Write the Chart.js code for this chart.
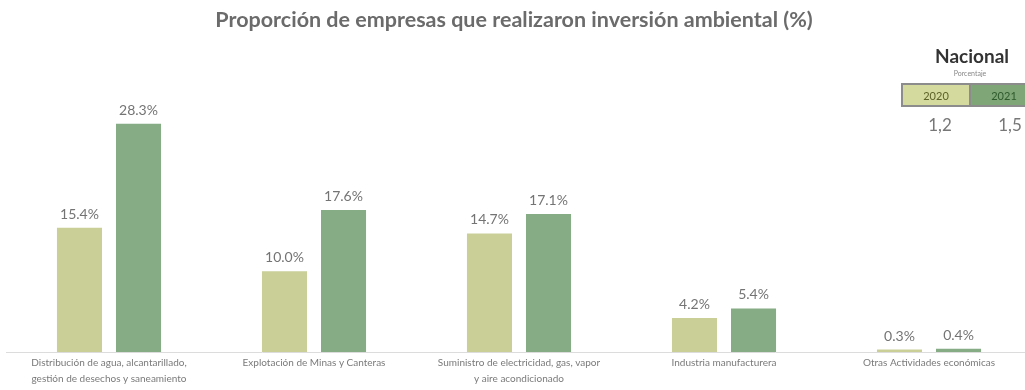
<!DOCTYPE html>
<html lang="es">
<head>
<meta charset="utf-8">
<title>Inversión ambiental</title>
<script src="https://cdn.jsdelivr.net/npm/chart.js@4/dist/chart.umd.min.js"></script>
<style>
    html, body { margin: 0; padding: 0; background: #fff; overflow: hidden; }
    #wrap { width: 1040px; height: 390px; }
</style>
</head>
<body>
<div id="wrap"><canvas id="inversion" width="1040" height="390"></canvas></div>
<script>
const sectores = [
    ["Distribución de agua, alcantarillado,", "gestión de desechos y saneamiento"],
    "Explotación de Minas y Canteras",
    ["Suministro de electricidad, gas, vapor", "y aire acondicionado"],
    "Industria manufacturera",
    "Otras Actividades económicas",
];
const valores2020 = [15.4, 10.0, 14.7, 4.2, 0.3];
const valores2021 = [28.3, 17.6, 17.1, 5.4, 0.4];
const anios = ["2020", "2021"];
const nacional = [1.2, 1.5];

const titulo = "Proporción de empresas que realizaron inversión ambiental (%)";
const colores = ["#cacf98", "#85ac84"];
const fuente = "Lato, 'Open Sans', sans-serif";

// porcentaje encima de cada barra
const etiquetasBarras = {
    id: "etiquetasBarras",
    afterDatasetsDraw(chart) {
        const ctx = chart.ctx;
        ctx.save();
        ctx.font = "14px " + fuente;
        ctx.fillStyle = "#747474";
        ctx.textAlign = "center";
        ctx.textBaseline = "alphabetic";
        chart.data.datasets.forEach((ds, i) => {
            chart.getDatasetMeta(i).data.forEach((bar, j) => {
                ctx.fillText(ds.data[j].toFixed(1) + "%", bar.x, bar.y - 9);
            });
        });
        ctx.restore();
    },
};

// título y cuadro del promedio nacional
const encabezado = {
    id: "encabezado",
    afterDraw(chart) {
        const ctx = chart.ctx;
        ctx.save();
        ctx.textAlign = "center";
        ctx.textBaseline = "middle";
        ctx.fillStyle = "#6b6b6b";
        ctx.font = "bold 21.5px " + fuente;
        ctx.fillText(titulo, 514, 20);

        ctx.fillStyle = "#333";
        ctx.font = "bold 19px " + fuente;
        ctx.fillText("Nacional", 972, 57);
        ctx.fillStyle = "#888";
        ctx.font = "7px " + fuente;
        ctx.fillText("Porcentaje", 970, 74);

        const x0 = 902, w = 68, y0 = 84, h = 22;
        ctx.fillStyle = "#d4da9e";
        ctx.fillRect(x0, y0, w, h);
        ctx.fillStyle = "#7ea677";
        ctx.fillRect(x0 + w, y0, w, h);
        ctx.strokeStyle = "#8c8c8c";
        ctx.lineWidth = 2;
        ctx.strokeRect(x0, y0, w * 2, h);
        ctx.beginPath();
        ctx.moveTo(x0 + w, y0);
        ctx.lineTo(x0 + w, y0 + h);
        ctx.stroke();

        ctx.font = "11px " + fuente;
        anios.forEach((a, i) => {
            ctx.fillStyle = i === 0 ? "#5c6128" : "#2f5a2c";
            ctx.fillText(a, x0 + w * i + 34, y0 + h / 2 + 1);
        });
        ctx.fillStyle = "#777";
        ctx.font = "17px " + fuente;
        nacional.forEach((v, i) => {
            ctx.fillText(v.toFixed(1).replace(".", ","), 940 + 70 * i, 126);
        });
        ctx.restore();
    },
};

new Chart(document.getElementById("inversion"), {
    type: "bar",
    data: {
        labels: sectores,
        datasets: [
            {
                label: anios[0],
                data: valores2020,
                backgroundColor: colores[0],
                barPercentage: 0.763,
                categoryPercentage: 0.576,
            },
            {
                label: anios[1],
                data: valores2021,
                backgroundColor: colores[1],
                barPercentage: 0.763,
                categoryPercentage: 0.576,
            },
        ],
    },
    options: {
        responsive: false,
        animation: false,
        layout: {
            padding: { top: 97, left: 6.5, right: 8.5, bottom: 0 },
        },
        plugins: {
            legend: { display: false },
            tooltip: { enabled: false },
        },
        scales: {
            x: {
                grid: { display: false, drawTicks: false },
                border: { color: "#dcdcdc", width: 1 },
                ticks: {
                    color: "#7a7a7a",
                    font: { family: fuente, size: 10, lineHeight: 1.6 },
                    padding: 3,
                    maxRotation: 0,
                    autoSkip: false,
                },
            },
            y: {
                display: false,
                min: 0,
                max: 31.6,
            },
        },
    },
    plugins: [etiquetasBarras, encabezado],
});
</script>
</body>
</html>
